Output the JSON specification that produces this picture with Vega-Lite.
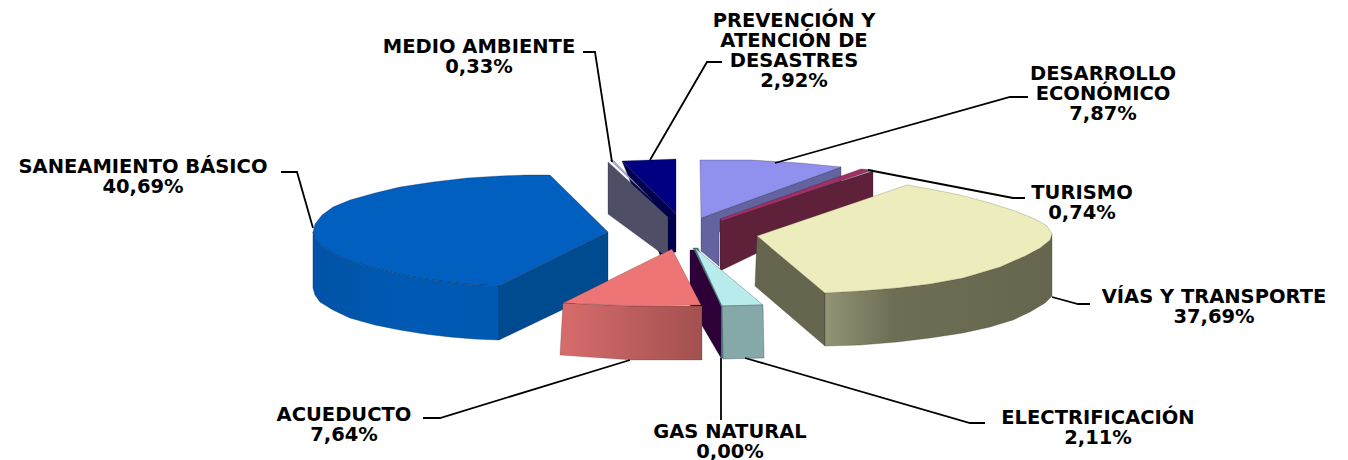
{"$schema":"https://vega.github.io/schema/vega-lite/v6.json","width":1348,"height":460,"autosize":"none","padding":0,"background":"white","view":{"stroke":null},
"datasets":{"faces":[
{"part":"desarrollo lado","i":1,"x":701,"y":218},{"part":"desarrollo lado","i":2,"x":841,"y":167},{"part":"desarrollo lado","i":3,"x":841,"y":185},{"part":"desarrollo lado","i":4,"x":719,"y":232},{"part":"desarrollo lado","i":5,"x":719,"y":266},{"part":"desarrollo lado","i":6,"x":701,"y":251},{"part":"desarrollo lado","i":7,"x":701,"y":218},
{"part":"desarrollo arriba","i":1,"x":700,"y":160},{"part":"desarrollo arriba","i":2,"x":750,"y":160},{"part":"desarrollo arriba","i":3,"x":800,"y":163},{"part":"desarrollo arriba","i":4,"x":841,"y":167},{"part":"desarrollo arriba","i":5,"x":701,"y":218},{"part":"desarrollo arriba","i":6,"x":700,"y":160},
{"part":"turismo lado","i":1,"x":720,"y":220},{"part":"turismo lado","i":2,"x":873,"y":171},{"part":"turismo lado","i":3,"x":873,"y":197},{"part":"turismo lado","i":4,"x":720,"y":271},{"part":"turismo lado","i":5,"x":720,"y":220},
{"part":"turismo arriba","i":1,"x":720,"y":219},{"part":"turismo arriba","i":2,"x":861,"y":169},{"part":"turismo arriba","i":3,"x":873,"y":170},{"part":"turismo arriba","i":4,"x":722,"y":221},{"part":"turismo arriba","i":5,"x":720,"y":219},
{"part":"prevencion lado","i":1,"x":622,"y":161},{"part":"prevencion lado","i":2,"x":676,"y":214},{"part":"prevencion lado","i":3,"x":676,"y":252},{"part":"prevencion lado","i":4,"x":660,"y":255},{"part":"prevencion lado","i":5,"x":622,"y":161},
{"part":"prevencion arriba","i":1,"x":622,"y":161},{"part":"prevencion arriba","i":2,"x":650,"y":160},{"part":"prevencion arriba","i":3,"x":676,"y":159},{"part":"prevencion arriba","i":4,"x":676,"y":214},{"part":"prevencion arriba","i":5,"x":622,"y":161},
{"part":"medio lado","i":1,"x":608,"y":162},{"part":"medio lado","i":2,"x":668,"y":217},{"part":"medio lado","i":3,"x":668,"y":258},{"part":"medio lado","i":4,"x":608,"y":214},{"part":"medio lado","i":5,"x":608,"y":162},
{"part":"medio arriba","i":1,"x":610,"y":160},{"part":"medio arriba","i":2,"x":614,"y":161},{"part":"medio arriba","i":3,"x":654,"y":202},{"part":"medio arriba","i":4,"x":610,"y":160},
{"part":"saneamiento lado","i":1,"x":499,"y":286},{"part":"saneamiento lado","i":2,"x":608,"y":232},{"part":"saneamiento lado","i":3,"x":608,"y":288},{"part":"saneamiento lado","i":4,"x":499,"y":340},{"part":"saneamiento lado","i":5,"x":499,"y":286},
{"part":"saneamiento arriba","i":1,"x":550,"y":175},{"part":"saneamiento arriba","i":2,"x":608,"y":232},{"part":"saneamiento arriba","i":3,"x":499,"y":286},{"part":"saneamiento arriba","i":4,"x":465,"y":284},{"part":"saneamiento arriba","i":5,"x":433,"y":280},{"part":"saneamiento arriba","i":6,"x":408,"y":276},{"part":"saneamiento arriba","i":7,"x":383,"y":270},{"part":"saneamiento arriba","i":8,"x":360,"y":264},{"part":"saneamiento arriba","i":9,"x":340,"y":257},{"part":"saneamiento arriba","i":10,"x":322,"y":246},{"part":"saneamiento arriba","i":11,"x":315,"y":238},{"part":"saneamiento arriba","i":12,"x":313,"y":232},{"part":"saneamiento arriba","i":13,"x":315,"y":224},{"part":"saneamiento arriba","i":14,"x":322,"y":215},{"part":"saneamiento arriba","i":15,"x":333,"y":207},{"part":"saneamiento arriba","i":16,"x":350,"y":200},{"part":"saneamiento arriba","i":17,"x":375,"y":193},{"part":"saneamiento arriba","i":18,"x":400,"y":187},{"part":"saneamiento arriba","i":19,"x":433,"y":182},{"part":"saneamiento arriba","i":20,"x":467,"y":178},{"part":"saneamiento arriba","i":21,"x":500,"y":176},{"part":"saneamiento arriba","i":22,"x":525,"y":175},{"part":"saneamiento arriba","i":23,"x":550,"y":175},
{"part":"gas lado","i":1,"x":690,"y":250},{"part":"gas lado","i":2,"x":696,"y":250},{"part":"gas lado","i":3,"x":721,"y":306},{"part":"gas lado","i":4,"x":721,"y":358},{"part":"gas lado","i":5,"x":690,"y":305},{"part":"gas lado","i":6,"x":690,"y":250},
{"part":"electrificacion borde","i":1,"x":693,"y":248},{"part":"electrificacion borde","i":2,"x":698,"y":248},{"part":"electrificacion borde","i":3,"x":724,"y":306},{"part":"electrificacion borde","i":4,"x":724,"y":358},{"part":"electrificacion borde","i":5,"x":721,"y":358},{"part":"electrificacion borde","i":6,"x":721,"y":306},{"part":"electrificacion borde","i":7,"x":693,"y":248},
{"part":"electrificacion arriba","i":1,"x":695,"y":248},{"part":"electrificacion arriba","i":2,"x":763,"y":305},{"part":"electrificacion arriba","i":3,"x":722,"y":306},{"part":"electrificacion arriba","i":4,"x":695,"y":248},
{"part":"electrificacion frente","i":1,"x":722,"y":306},{"part":"electrificacion frente","i":2,"x":763,"y":305},{"part":"electrificacion frente","i":3,"x":764,"y":358},{"part":"electrificacion frente","i":4,"x":723,"y":359},{"part":"electrificacion frente","i":5,"x":722,"y":306},
{"part":"acueducto arriba","i":1,"x":672,"y":249},{"part":"acueducto arriba","i":2,"x":701,"y":305},{"part":"acueducto arriba","i":3,"x":633,"y":306},{"part":"acueducto arriba","i":4,"x":563,"y":303},{"part":"acueducto arriba","i":5,"x":672,"y":249},
{"part":"vias lado","i":1,"x":757,"y":236},{"part":"vias lado","i":2,"x":825,"y":293},{"part":"vias lado","i":3,"x":825,"y":346},{"part":"vias lado","i":4,"x":755,"y":286},{"part":"vias lado","i":5,"x":757,"y":236},
{"part":"vias arriba","i":1,"x":907,"y":185},{"part":"vias arriba","i":2,"x":930,"y":189},{"part":"vias arriba","i":3,"x":960,"y":195},{"part":"vias arriba","i":4,"x":990,"y":203},{"part":"vias arriba","i":5,"x":1015,"y":211},{"part":"vias arriba","i":6,"x":1035,"y":219},{"part":"vias arriba","i":7,"x":1047,"y":226},{"part":"vias arriba","i":8,"x":1052,"y":234},{"part":"vias arriba","i":9,"x":1050,"y":240},{"part":"vias arriba","i":10,"x":1040,"y":248},{"part":"vias arriba","i":11,"x":1025,"y":256},{"part":"vias arriba","i":12,"x":1000,"y":267},{"part":"vias arriba","i":13,"x":963,"y":278},{"part":"vias arriba","i":14,"x":930,"y":284},{"part":"vias arriba","i":15,"x":897,"y":288},{"part":"vias arriba","i":16,"x":860,"y":291},{"part":"vias arriba","i":17,"x":825,"y":293},{"part":"vias arriba","i":18,"x":757,"y":236},{"part":"vias arriba","i":19,"x":907,"y":185},
{"part":"saneamiento frente","i":1,"x":313,"y":232},{"part":"saneamiento frente","i":2,"x":315,"y":238},{"part":"saneamiento frente","i":3,"x":322,"y":246},{"part":"saneamiento frente","i":4,"x":340,"y":257},{"part":"saneamiento frente","i":5,"x":360,"y":264},{"part":"saneamiento frente","i":6,"x":383,"y":270},{"part":"saneamiento frente","i":7,"x":408,"y":276},{"part":"saneamiento frente","i":8,"x":433,"y":280},{"part":"saneamiento frente","i":9,"x":465,"y":284},{"part":"saneamiento frente","i":10,"x":499,"y":286},{"part":"saneamiento frente","i":11,"x":499,"y":340},{"part":"saneamiento frente","i":12,"x":475,"y":339},{"part":"saneamiento frente","i":13,"x":450,"y":337},{"part":"saneamiento frente","i":14,"x":425,"y":334},{"part":"saneamiento frente","i":15,"x":400,"y":330},{"part":"saneamiento frente","i":16,"x":375,"y":325},{"part":"saneamiento frente","i":17,"x":350,"y":318},{"part":"saneamiento frente","i":18,"x":333,"y":310},{"part":"saneamiento frente","i":19,"x":320,"y":302},{"part":"saneamiento frente","i":20,"x":315,"y":295},{"part":"saneamiento frente","i":21,"x":313,"y":288},{"part":"saneamiento frente","i":22,"x":313,"y":232},
{"part":"acueducto frente","i":1,"x":563,"y":303},{"part":"acueducto frente","i":2,"x":633,"y":306},{"part":"acueducto frente","i":3,"x":702,"y":306},{"part":"acueducto frente","i":4,"x":702,"y":360},{"part":"acueducto frente","i":5,"x":633,"y":360},{"part":"acueducto frente","i":6,"x":560,"y":355},{"part":"acueducto frente","i":7,"x":563,"y":303},
{"part":"vias frente","i":1,"x":825,"y":293},{"part":"vias frente","i":2,"x":860,"y":291},{"part":"vias frente","i":3,"x":897,"y":288},{"part":"vias frente","i":4,"x":930,"y":284},{"part":"vias frente","i":5,"x":963,"y":278},{"part":"vias frente","i":6,"x":1000,"y":267},{"part":"vias frente","i":7,"x":1025,"y":256},{"part":"vias frente","i":8,"x":1040,"y":248},{"part":"vias frente","i":9,"x":1050,"y":240},{"part":"vias frente","i":10,"x":1052,"y":234},{"part":"vias frente","i":11,"x":1052,"y":296},{"part":"vias frente","i":12,"x":1045,"y":303},{"part":"vias frente","i":13,"x":1030,"y":312},{"part":"vias frente","i":14,"x":1013,"y":320},{"part":"vias frente","i":15,"x":990,"y":327},{"part":"vias frente","i":16,"x":963,"y":333},{"part":"vias frente","i":17,"x":930,"y":338},{"part":"vias frente","i":18,"x":897,"y":342},{"part":"vias frente","i":19,"x":860,"y":345},{"part":"vias frente","i":20,"x":825,"y":346},{"part":"vias frente","i":21,"x":825,"y":293}
],
"leaders":[
{"id":"saneamiento","i":1,"x":281,"y":172},{"id":"saneamiento","i":2,"x":297,"y":172},{"id":"saneamiento","i":3,"x":313,"y":228},
{"id":"medio","i":1,"x":583,"y":52},{"id":"medio","i":2,"x":595,"y":52},{"id":"medio","i":3,"x":612,"y":162},
{"id":"prevencion","i":1,"x":722,"y":62},{"id":"prevencion","i":2,"x":707,"y":62},{"id":"prevencion","i":3,"x":650,"y":160},
{"id":"desarrollo","i":1,"x":1028,"y":97},{"id":"desarrollo","i":2,"x":1010,"y":97},{"id":"desarrollo","i":3,"x":775,"y":163},
{"id":"turismo","i":1,"x":1025,"y":198},{"id":"turismo","i":2,"x":1013,"y":198},{"id":"turismo","i":3,"x":868,"y":170},
{"id":"vias","i":1,"x":1090,"y":304},{"id":"vias","i":2,"x":1078,"y":304},{"id":"vias","i":3,"x":1052,"y":297},
{"id":"electrificacion","i":1,"x":985,"y":423},{"id":"electrificacion","i":2,"x":970,"y":423},{"id":"electrificacion","i":3,"x":745,"y":358},
{"id":"gas","i":1,"x":721,"y":358},{"id":"gas","i":2,"x":721,"y":420},
{"id":"acueducto","i":1,"x":423,"y":418},{"id":"acueducto","i":2,"x":440,"y":418},{"id":"acueducto","i":3,"x":630,"y":360}
],
"labels":[
{"text":"SANEAMIENTO BÁSICO\n40,69%","x":143,"y":167},
{"text":"MEDIO AMBIENTE\n0,33%","x":479,"y":47},
{"text":"PREVENCIÓN Y\nATENCIÓN DE\nDESASTRES\n2,92%","x":794,"y":21},
{"text":"DESARROLLO\nECONÓMICO\n7,87%","x":1103,"y":74},
{"text":"TURISMO\n0,74%","x":1082,"y":193},
{"text":"VÍAS Y TRANSPORTE\n37,69%","x":1214,"y":297},
{"text":"ELECTRIFICACIÓN\n2,11%","x":1098,"y":418},
{"text":"GAS NATURAL\n0,00%","x":730,"y":432},
{"text":"ACUEDUCTO\n7,64%","x":344,"y":415}
]},
"encoding":{
"x":{"field":"x","type":"quantitative","axis":null,"scale":{"domain":[0,1348],"nice":false,"zero":false}},
"y":{"field":"y","type":"quantitative","axis":null,"scale":{"domain":[460,0],"nice":false,"zero":false}}
},
"layer":[
{"data":{"name":"faces"},"transform":[{"filter":"datum.part!='saneamiento frente' && datum.part!='acueducto frente' && datum.part!='acueducto arriba' && indexof(datum.part,'vias')<0"}],
"mark":{"type":"line","stroke":"#1a1a3a","strokeOpacity":0.35,"strokeWidth":0.8},
"encoding":{"order":{"field":"i"},"detail":{"field":"part"},"fill":{"field":"part","type":"nominal","legend":null,"sort":null,"scale":{
"domain":["desarrollo lado","desarrollo arriba","turismo lado","turismo arriba","prevencion lado","prevencion arriba","medio lado","medio arriba","saneamiento lado","saneamiento arriba","gas lado","electrificacion borde","electrificacion arriba","electrificacion frente"],
"range":["#63639f","#9090ee","#5f2039","#a0305f","#00004c","#000080","#4e4e66","#b0b0dc","#004a90","#005fbf","#2e0038","#4f7f7f","#b8ecec","#85a8a8"]}}}},
{"data":{"name":"faces"},"transform":[{"filter":"datum.part=='saneamiento frente'"}],
"mark":{"type":"line","strokeOpacity":0.5,"stroke":"#003060","strokeWidth":0.8,"fill":{"gradient":"linear","x1":0,"x2":1,"y1":0,"y2":0,"stops":[{"offset":0,"color":"#0053a6"},{"offset":0.5,"color":"#005ab4"},{"offset":1,"color":"#0059b0"}]}},
"encoding":{"order":{"field":"i"}}},
{"data":{"name":"faces"},"transform":[{"filter":"datum.part=='acueducto frente'"}],
"mark":{"type":"line","strokeOpacity":0.3,"stroke":"#402020","strokeWidth":0.8,"fill":{"gradient":"linear","x1":0,"x2":1,"y1":0,"y2":0,"stops":[{"offset":0,"color":"#d86c6c"},{"offset":1,"color":"#a25050"}]}},
"encoding":{"order":{"field":"i"}}},
{"data":{"name":"faces"},"transform":[{"filter":"datum.part=='acueducto arriba'"}],
"mark":{"type":"line","fill":"#ee7575","stroke":"#402020","strokeOpacity":0.3,"strokeWidth":0.8},
"encoding":{"order":{"field":"i"}}},
{"data":{"name":"faces"},"transform":[{"filter":"datum.part=='vias lado'"}],
"mark":{"type":"line","fill":"#66664e","stroke":"#303020","strokeOpacity":0.35,"strokeWidth":0.8},
"encoding":{"order":{"field":"i"}}},
{"data":{"name":"faces"},"transform":[{"filter":"datum.part=='vias frente'"}],
"mark":{"type":"line","stroke":"#303020","strokeOpacity":0.35,"strokeWidth":0.8,"fill":{"gradient":"linear","x1":0,"x2":1,"y1":0,"y2":0,"stops":[{"offset":0,"color":"#939376"},{"offset":0.3,"color":"#6e6e55"},{"offset":1,"color":"#66664e"}]}},
"encoding":{"order":{"field":"i"}}},
{"data":{"name":"faces"},"transform":[{"filter":"datum.part=='vias arriba'"}],
"mark":{"type":"line","fill":"#ececbc","stroke":"#606040","strokeOpacity":0.35,"strokeWidth":0.8},
"encoding":{"order":{"field":"i"}}},
{"data":{"name":"leaders"},"mark":{"type":"line","stroke":"black","strokeWidth":1.8},"encoding":{"order":{"field":"i"},"detail":{"field":"id"}}},
{"data":{"name":"labels"},"mark":{"type":"text","font":"DejaVu Sans","fontWeight":"bold","fontSize":19.5,"lineHeight":20,"lineBreak":"\n","align":"center","baseline":"middle","color":"black"},"encoding":{"text":{"field":"text"}}}
]}
